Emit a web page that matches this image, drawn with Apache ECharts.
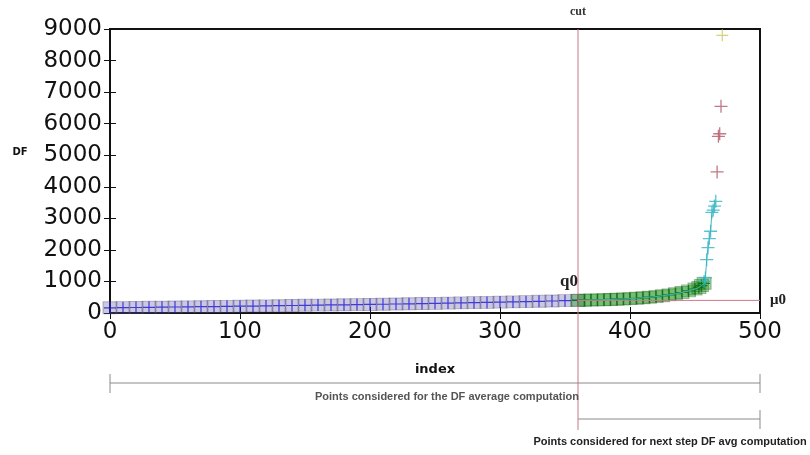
<!DOCTYPE html>
<html>
<head>
<meta charset="utf-8">
<style>
  html, body { margin: 0; padding: 0; background: #fff; }
  #chart { width: 810px; height: 455px; }
</style>
<script src="https://cdn.jsdelivr.net/npm/echarts@6/dist/echarts.min.js"></script>
</head>
<body>
<div id="chart"></div>
<script>
// sorted DF values per index, split by colour group
var blueIdx = [0, 10, 20, 30, 40, 50, 60, 70, 80, 90, 100, 110, 120, 130, 140, 150, 160, 170, 180,
  190, 200, 210, 220, 230, 240, 250, 260, 270, 280, 290, 300, 310, 320, 330, 340, 350, 360];
var blueDF = [165, 170, 175, 180, 185, 190, 195, 200, 205, 210, 215, 220, 225, 232, 238, 244, 250, 255, 260,
  266, 272, 278, 285, 292, 300, 306, 313, 320, 328, 336, 345, 352, 360, 370, 380, 392, 405];
var greenIdx = [360, 365, 370, 375, 380, 385, 390, 395, 400, 405, 410, 415, 420, 425, 430, 435, 440, 445, 450, 453, 455, 457];
var greenDF = [400, 405, 410, 415, 422, 430, 438, 446, 455, 468, 482, 500, 520, 545, 575, 610, 650, 700, 760, 810, 870, 940];
var cyanIdx = [457, 458, 459, 460, 461, 462, 463, 464, 465, 466];
var cyanDF = [1000, 1110, 1690, 2070, 2360, 2590, 3190, 3260, 3390, 3540];
var redIdx = [467, 468, 469, 470];
var redDF = [4470, 5600, 5680, 6550];
var yellowIdx = [471];
var yellowDF = [8800];

var xTicks = [0, 100, 200, 300, 400, 500];
var yTicks = [0, 1000, 2000, 3000, 4000, 5000, 6000, 7000, 8000, 9000];

var cutIndex = 360;
var mu0 = 400;

function pairs(xs, ys) {
  return xs.map(function (x, i) { return [x, ys[i]]; });
}

var plus = 'path://M0,9H20V11H0Z M9,0H11V20H9Z';
var sans = 'DejaVu Sans';
var serif = 'Liberation Serif';

var chart = echarts.init(document.getElementById('chart'));

function boxSeries(data, fill, edge) {
  return {
    type: 'scatter', xAxisIndex: 0, yAxisIndex: 0, data: data,
    symbol: 'rect', symbolSize: [14, 12], silent: true,
    itemStyle: { color: fill, borderColor: edge, borderWidth: 1 }
  };
}
function plusSeries(data, color, size) {
  return {
    type: 'scatter', xAxisIndex: 0, yAxisIndex: 0, data: data,
    symbol: plus, symbolSize: size, silent: true,
    itemStyle: { color: color }
  };
}

var axisCommon = {
  type: 'value',
  axisLine: { show: false },
  axisTick: { show: true, inside: true, length: 6, lineStyle: { color: '#111', width: 1 } },
  splitLine: { show: false }
};
var plain = function (v) { return String(v); };

var option = {
  animation: false,
  backgroundColor: '#fff',
  grid: {
    left: 110, right: 50, top: 29, bottom: 142,
    show: true, borderColor: '#111', borderWidth: 2, backgroundColor: 'transparent'
  },
  xAxis: [
    Object.assign({}, axisCommon, {
      position: 'bottom', min: xTicks[0], max: xTicks[xTicks.length - 1], interval: 100,
      axisLabel: { fontSize: 23, color: '#111', fontFamily: sans, margin: 8, formatter: plain },
      name: 'index', nameLocation: 'middle', nameGap: 50,
      nameTextStyle: { fontSize: 13, fontWeight: 'bold', color: '#111', fontFamily: sans }
    }),
    Object.assign({}, axisCommon, {
      position: 'top', min: 0, max: 500, interval: 100, axisLabel: { show: false }
    })
  ],
  yAxis: [
    Object.assign({}, axisCommon, {
      position: 'left', min: yTicks[0], max: yTicks[yTicks.length - 1], interval: 1000,
      axisLabel: { fontSize: 23, color: '#111', fontFamily: sans, margin: 8, formatter: plain }
    }),
    Object.assign({}, axisCommon, {
      position: 'right', min: 0, max: 9000, interval: 1000, axisLabel: { show: false }
    })
  ],
  series: [
    boxSeries(pairs(blueIdx, blueDF), 'rgba(95,85,165,0.4)', 'rgba(70,70,110,0.45)'),
    plusSeries(pairs(blueIdx, blueDF), '#1a1ad0', 12),
    boxSeries(pairs(greenIdx, greenDF), 'rgba(40,150,40,0.5)', 'rgba(20,90,20,0.45)'),
    {
      type: 'line', data: pairs(greenIdx.concat(cyanIdx), greenDF.concat(cyanDF)),
      symbol: 'none', silent: true, lineStyle: { color: '#3cb8c0', width: 1 }
    },
    plusSeries(pairs(greenIdx, greenDF), '#0a6a0a', 12),
    plusSeries(pairs(cyanIdx, cyanDF), '#30b4c4', 13),
    plusSeries(pairs(redIdx, redDF), '#b05868', 13),
    plusSeries(pairs(yellowIdx, yellowDF), '#c8c858', 12)
  ]
};
chart.setOption(option);

// annotations placed from the axis scale
var topY = chart.convertToPixel({ gridIndex: 0 }, [0, 9000])[1];
var x0 = chart.convertToPixel({ gridIndex: 0 }, [0, 0])[0];
var xEnd = chart.convertToPixel({ gridIndex: 0 }, [500, 0])[0];
var cut = chart.convertToPixel({ gridIndex: 0 }, [cutIndex, mu0]);
var cutX = cut[0], muY = cut[1];
var q0Y = chart.convertToPixel({ gridIndex: 0 }, [cutIndex, blueDF[blueDF.length - 1]])[1];
var dfY = chart.convertToPixel({ gridIndex: 0 }, [0, 5100])[1];

var cutColor = '#cc7888';
var brColor = '#8a8a8a';
function seg(x1, y1, x2, y2, color) {
  return { type: 'line', silent: true, z: 50, shape: { x1: x1, y1: y1, x2: x2, y2: y2 },
    style: { stroke: color, lineWidth: 1 } };
}
function txt(x, y, s, size, font, color, align) {
  return { type: 'text', silent: true, z: 60, x: x, y: y,
    style: { text: s, fontSize: size, fontFamily: font, fontWeight: 'bold', fill: color,
      align: align || 'center', verticalAlign: 'middle' } };
}

var br1 = 383, br2 = 419;
chart.setOption({
  graphic: [
    txt(20, dfY, 'DF', 10, sans, '#111'),
    seg(cutX, topY, cutX, 430, cutColor),
    seg(cutX, muY, xEnd, muY, cutColor),
    txt(cutX, 12, 'cut', 12, serif, '#333'),
    txt(cutX - 9, q0Y - 19, 'q0', 17, serif, '#222'),
    txt(xEnd + 18, muY, 'μ0', 15, serif, '#222'),
    seg(x0, br1, xEnd, br1, brColor),
    seg(x0, br1 - 9, x0, br1 + 10, brColor),
    seg(xEnd, br1 - 9, xEnd, br1 + 10, brColor),
    txt(447, 397, 'Points considered for the DF average computation', 11, 'Liberation Sans', '#555'),
    seg(cutX, br2, xEnd, br2, brColor),
    seg(xEnd, br2 - 9, xEnd, br2 + 10, brColor),
    txt(670, 442, 'Points considered for next step DF avg computation', 11, 'Liberation Sans', '#222')
  ]
});
</script>
</body>
</html>
